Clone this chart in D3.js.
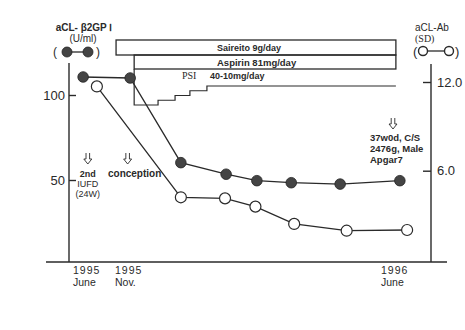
<!DOCTYPE html>
<html>
<head>
<meta charset="utf-8">
<script src="https://cdn.jsdelivr.net/npm/d3@7"></script>
<style>
  html, body { margin: 0; padding: 0; background: #fff; }
  svg { display: block; font-family: "Liberation Sans", Arial, sans-serif; }
</style>
</head>
<body>
<svg id="chart" width="465" height="330"></svg>
<script>
// Schematic timeline position of each measurement (0 = left axis, 100 = right axis)
const beta2Time   = [3.9, 16.9, 30.9, 43.4, 51.9, 61.4, 74.9, 91.4];
const beta2Values = [110.6, 110, 60.2, 53.4, 49.6, 48.4, 47.6, 49.6];   // aCL-β2GPI (U/ml)
const aclTime     = [7.7, 30.9, 43.1, 51.5, 62.2, 76.7, 93.4];
const aclValues   = [11.7, 4.2, 4.13, 3.57, 2.4, 1.94, 1.99];           // aCL-Ab (SD)

const leftTicks  = [50, 100];
const rightTicks = [6, 12];
const dateTicks  = [{t: 1.1, y: "1995", m: "June"}, {t: 12.7, y: "1995", m: "Nov."}, {t: 86.2, y: "1996", m: "June"}];

// Treatments: start / end on the timeline
const saireito = {start: 13.0, end: 90.3, label: "Saireito 9g/day"};
const aspirin  = {start: 18.0, end: 90.3, label: "Aspirin 81mg/day"};
// Prednisolone taper: step start positions and daily dose (mg)
const psiStepTime = [18.0, 24.6, 29.3, 33.4, 38.1];
const psiDose     = [40, 32.5, 25, 17.5, 10];
const psiEnd = 90.3;

const events = [
  {t: 5.2, lines: ["2nd", "IUFD", "(24W)"], weights: [700, 400, 400]},
  {t: 16.2, lines: ["conception"], weights: [700]},
];

const svg = d3.select("#chart");
const ink = "#2a2a2a";

const x  = d3.scaleLinear().domain([0, 100]).range([69, 431]);
const yL = d3.scaleLinear().domain([0, 100]).range([265, 95]);
const yR = d3.scaleLinear().domain([0, 12]).range([259.4, 82]);
const baseY = 262, topY = 63;

// Axes frame
svg.append("line").attr("x1", 46).attr("x2", 447).attr("y1", baseY).attr("y2", baseY)
  .attr("stroke", ink).attr("stroke-width", 1.6);
svg.append("line").attr("x1", x(0)).attr("x2", x(0)).attr("y1", baseY).attr("y2", topY)
  .attr("stroke", ink).attr("stroke-width", 1.4);
svg.append("line").attr("x1", x(100)).attr("x2", x(100)).attr("y1", baseY).attr("y2", topY + 1)
  .attr("stroke", ink).attr("stroke-width", 1.4);

const gL = svg.append("g").attr("transform", `translate(${x(0)},0)`)
  .call(d3.axisLeft(yL).tickValues(leftTicks).tickSize(-7).tickPadding(4).tickFormat(d3.format("d")));
const gR = svg.append("g").attr("transform", `translate(${x(100)},0)`)
  .call(d3.axisRight(yR).tickValues(rightTicks).tickSize(-8).tickPadding(6).tickFormat(d3.format(".1f")));
[gL, gR].forEach(g => {
  g.select(".domain").remove();
  g.selectAll(".tick line").attr("stroke", ink).attr("stroke-width", 1.4);
  g.selectAll(".tick text").attr("fill", ink).style("font-size", "13px")
    .style("font-family", "'Liberation Sans', Arial, sans-serif");
});

// Date labels under the timeline
const dl = svg.append("g").selectAll("text").data(dateTicks).join("text")
  .attr("x", d => x(d.t)).attr("y", 274).attr("fill", ink).style("font-size", "10.5px");
dl.append("tspan").text(d => d.y).attr("x", d => x(d.t)).style("letter-spacing", "1px");
dl.append("tspan").text(d => d.m).attr("x", d => x(d.t)).attr("dy", 12);

// Treatment boxes
const boxTop = 40, boxMid = 55, boxBot = 69;
svg.append("rect").attr("x", x(saireito.start)).attr("y", boxTop)
  .attr("width", x(saireito.end) - x(saireito.start)).attr("height", boxMid - boxTop)
  .attr("fill", "none").attr("stroke", ink).attr("stroke-width", 1.3);
svg.append("rect").attr("x", x(aspirin.start)).attr("y", boxMid)
  .attr("width", x(aspirin.end) - x(aspirin.start)).attr("height", boxBot - boxMid)
  .attr("fill", "none").attr("stroke", ink).attr("stroke-width", 1.3);
svg.append("text").attr("x", 217).attr("y", 51).text(saireito.label)
  .attr("fill", ink).style("font-size", "9px").style("font-weight", 700);
svg.append("text").attr("x", 217).attr("y", 66).text(aspirin.label)
  .attr("fill", ink).style("font-size", "9.5px").style("font-weight", 700);

// PSI taper: band depth below the aspirin box tracks the dose
const depth = d3.scaleLinear().domain([10, 40]).range([17, 36]);
const stepPts = [[x(psiStepTime[0]), boxBot]];
psiStepTime.forEach((t, i) => {
  const yy = boxBot + depth(psiDose[i]);
  stepPts.push([x(t), yy]);
  const tNext = i < psiStepTime.length - 1 ? psiStepTime[i + 1] : psiEnd;
  stepPts.push([x(tNext), yy]);
});
svg.append("path").attr("d", d3.line()(stepPts)).attr("fill", "none")
  .attr("stroke", ink).attr("stroke-width", 1.2);
svg.append("text").attr("x", 182).attr("y", 79).text("PSI")
  .attr("fill", ink).style("font-size", "10px").style("font-family", "'Liberation Serif', serif");
svg.append("text").attr("x", 210).attr("y", 79).text("40-10mg/day")
  .attr("fill", ink).style("font-size", "9px").style("font-weight", 700);

// Series lines and markers
const lineL = d3.line().x((d, i) => x(beta2Time[i])).y(d => yL(d));
const lineR = d3.line().x((d, i) => x(aclTime[i])).y(d => yR(d));
svg.append("path").attr("d", lineR(aclValues)).attr("fill", "none").attr("stroke", ink).attr("stroke-width", 1.3);
svg.append("path").attr("d", lineL(beta2Values)).attr("fill", "none").attr("stroke", ink).attr("stroke-width", 1.3);
svg.append("g").selectAll("circle").data(aclValues).join("circle")
  .attr("cx", (d, i) => x(aclTime[i])).attr("cy", d => yR(d)).attr("r", 5.5)
  .attr("fill", "#fff").attr("stroke", ink).attr("stroke-width", 1.2);
svg.append("g").selectAll("circle").data(beta2Values).join("circle")
  .attr("cx", (d, i) => x(beta2Time[i])).attr("cy", d => yL(d)).attr("r", 5.3)
  .attr("fill", "#444").attr("stroke", "#222").attr("stroke-width", 0.8);

// Event annotations with hollow down arrows
function arrow(cx, y0) {
  const g = svg.append("g").attr("fill", "none").attr("stroke", ink).attr("stroke-width", 0.9);
  g.append("path").attr("d", `M${cx - 1.8},${y0} V${y0 + 6} H${cx - 4} L${cx},${y0 + 11} L${cx + 4},${y0 + 6} H${cx + 1.8} V${y0}`);
}
events.forEach(e => {
  const cx = x(e.t) + (e.lines.length > 1 ? 0 : 1);
  arrow(x(e.t), 153);
  e.lines.forEach((l, i) => {
    svg.append("text").attr("x", e.lines.length > 1 ? cx : cx + 6).attr("y", 177 + i * 10)
      .attr("text-anchor", "middle").text(l).attr("fill", ink)
      .style("font-size", e.lines.length > 1 ? "9px" : "10px").style("font-weight", e.weights[i]);
  });
});
arrow(393, 118);
["37w0d, C/S", "2476g, Male", "Apgar7"].forEach((l, i) => {
  svg.append("text").attr("x", 370).attr("y", 141 + i * 11).text(l).attr("fill", ink)
    .style("font-size", "9.5px").style("font-weight", 700);
});

// Legends
svg.append("text").attr("x", 84).attr("y", 31).attr("text-anchor", "middle").text("aCL- β2GP Ⅰ")
  .attr("fill", ink).style("font-size", "10px").style("font-weight", 700);
svg.append("text").attr("x", 83).attr("y", 42).attr("text-anchor", "middle").text("(U/ml)")
  .attr("fill", ink).style("font-size", "10px");
svg.append("text").attr("x", 53).attr("y", 56).text("(").attr("fill", ink).style("font-size", "12px");
svg.append("text").attr("x", 96).attr("y", 56).text(")").attr("fill", ink).style("font-size", "12px");
svg.append("line").attr("x1", 67).attr("x2", 88).attr("y1", 52).attr("y2", 52).attr("stroke", ink).attr("stroke-width", 1.3);
[67, 88].forEach(cx => svg.append("circle").attr("cx", cx).attr("cy", 52).attr("r", 5)
  .attr("fill", "#444").attr("stroke", "#222").attr("stroke-width", 0.8));

svg.append("text").attr("x", 415).attr("y", 31).text("aCL-Ab").attr("fill", ink).style("font-size", "10px");
svg.append("text").attr("x", 415).attr("y", 42).text("(SD)").attr("fill", ink)
  .style("font-size", "10px").style("font-family", "'Liberation Serif', serif");
svg.append("text").attr("x", 413).attr("y", 56).text("(").attr("fill", ink).style("font-size", "13px");
svg.append("text").attr("x", 455).attr("y", 56).text(")").attr("fill", ink).style("font-size", "13px");
svg.append("line").attr("x1", 423).attr("x2", 449).attr("y1", 51).attr("y2", 51).attr("stroke", ink).attr("stroke-width", 1.3);
[423, 449].forEach(cx => svg.append("circle").attr("cx", cx).attr("cy", 51).attr("r", 4.5)
  .attr("fill", "#fff").attr("stroke", ink).attr("stroke-width", 1.4));
</script>
</body>
</html>
